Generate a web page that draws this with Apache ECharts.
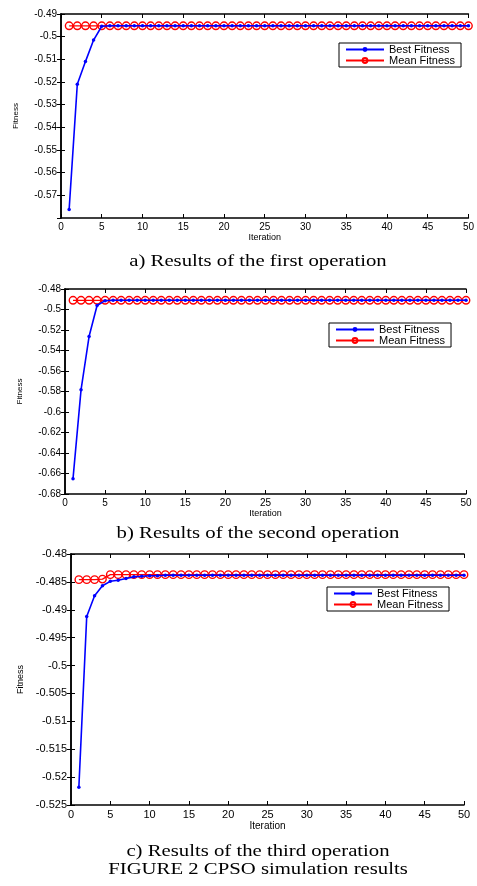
<!DOCTYPE html>
<html>
<head>
<meta charset="utf-8">
<script src="https://cdn.jsdelivr.net/npm/echarts@6/dist/echarts.min.js"></script>
<style>
html,body{margin:0;padding:0;background:#fff;}
#chart{width:477px;height:886px;}
</style>
</head>
<body>
<div id="chart"></div>
<script>
const iterations = [1,2,3,4,5,6,7,8,9,10,11,12,13,14,15,16,17,18,19,20,21,22,23,24,25,26,27,28,29,30,31,32,33,34,35,36,37,38,39,40,41,42,43,44,45,46,47,48,49,50];
const xTicks = [0,5,10,15,20,25,30,35,40,45,50];

const best1 = [-0.5762,-0.5210,-0.5110,-0.5015,-0.4954,
  -0.4952,-0.4952,-0.4952,-0.4952,-0.4952,-0.4952,-0.4952,-0.4952,-0.4952,-0.4952,
  -0.4952,-0.4952,-0.4952,-0.4952,-0.4952,-0.4952,-0.4952,-0.4952,-0.4952,-0.4952,
  -0.4952,-0.4952,-0.4952,-0.4952,-0.4952,-0.4952,-0.4952,-0.4952,-0.4952,-0.4952,
  -0.4952,-0.4952,-0.4952,-0.4952,-0.4952,-0.4952,-0.4952,-0.4952,-0.4952,-0.4952,
  -0.4952,-0.4952,-0.4952,-0.4952,-0.4952];
const mean1 = [-0.4952,-0.4952,-0.4952,-0.4952,-0.4952,-0.4952,-0.4952,-0.4952,-0.4952,-0.4952,
  -0.4952,-0.4952,-0.4952,-0.4952,-0.4952,-0.4952,-0.4952,-0.4952,-0.4952,-0.4952,
  -0.4952,-0.4952,-0.4952,-0.4952,-0.4952,-0.4952,-0.4952,-0.4952,-0.4952,-0.4952,
  -0.4952,-0.4952,-0.4952,-0.4952,-0.4952,-0.4952,-0.4952,-0.4952,-0.4952,-0.4952,
  -0.4952,-0.4952,-0.4952,-0.4952,-0.4952,-0.4952,-0.4952,-0.4952,-0.4952,-0.4952];

const best2 = [-0.6650,-0.5784,-0.5264,-0.4961,-0.4914,
  -0.4910,-0.4910,-0.4910,-0.4910,-0.4910,-0.4910,-0.4910,-0.4910,-0.4910,-0.4910,
  -0.4910,-0.4910,-0.4910,-0.4910,-0.4910,-0.4910,-0.4910,-0.4910,-0.4910,-0.4910,
  -0.4910,-0.4910,-0.4910,-0.4910,-0.4910,-0.4910,-0.4910,-0.4910,-0.4910,-0.4910,
  -0.4910,-0.4910,-0.4910,-0.4910,-0.4910,-0.4910,-0.4910,-0.4910,-0.4910,-0.4910,
  -0.4910,-0.4910,-0.4910,-0.4910,-0.4910];
const mean2 = [-0.4910,-0.4910,-0.4910,-0.4910,-0.4910,-0.4910,-0.4910,-0.4910,-0.4910,-0.4910,
  -0.4910,-0.4910,-0.4910,-0.4910,-0.4910,-0.4910,-0.4910,-0.4910,-0.4910,-0.4910,
  -0.4910,-0.4910,-0.4910,-0.4910,-0.4910,-0.4910,-0.4910,-0.4910,-0.4910,-0.4910,
  -0.4910,-0.4910,-0.4910,-0.4910,-0.4910,-0.4910,-0.4910,-0.4910,-0.4910,-0.4910,
  -0.4910,-0.4910,-0.4910,-0.4910,-0.4910,-0.4910,-0.4910,-0.4910,-0.4910,-0.4910];

const best3 = [-0.5218,-0.4912,-0.4875,-0.4857,-0.4849,-0.4847,-0.4844,-0.4841,-0.4840,-0.4839,
  -0.4839,-0.4838,-0.4838,-0.4838,-0.4838,-0.4838,-0.4838,-0.4838,-0.4838,-0.4838,
  -0.4838,-0.4838,-0.4838,-0.4838,-0.4838,-0.4838,-0.4838,-0.4838,-0.4838,-0.4838,
  -0.4838,-0.4838,-0.4838,-0.4838,-0.4838,-0.4838,-0.4838,-0.4838,-0.4838,-0.4838,
  -0.4838,-0.4838,-0.4838,-0.4838,-0.4838,-0.4838,-0.4838,-0.4838,-0.4838,-0.4838];
const mean3 = [-0.4846,-0.4846,-0.4846,-0.4845,-0.4837,-0.4837,-0.4837,-0.4837,-0.4837,-0.4837,
  -0.4837,-0.4837,-0.4837,-0.4837,-0.4837,-0.4837,-0.4837,-0.4837,-0.4837,-0.4837,
  -0.4837,-0.4837,-0.4837,-0.4837,-0.4837,-0.4837,-0.4837,-0.4837,-0.4837,-0.4837,
  -0.4837,-0.4837,-0.4837,-0.4837,-0.4837,-0.4837,-0.4837,-0.4837,-0.4837,-0.4837,
  -0.4837,-0.4837,-0.4837,-0.4837,-0.4837,-0.4837,-0.4837,-0.4837,-0.4837,-0.4837];

const seriesNames = ['Best Fitness', 'Mean Fitness'];
const captions = ['a) Results of the first operation', 'b) Results of the second operation', 'c) Results of the third operation', 'FIGURE 2 CPSO simulation results'];
const xName = 'Iteration';
const yName = 'Fitness';

const panels = [
  {grid:{left:61, top:14, width:413, height:204}, ymin:-0.58, ymax:-0.49, yint:0.01, showMin:false,
   best:best1, mean:mean1, legend:{left:339, top:43}, fs:10, nameFs:8, xGap:14, yGap:41},
  {grid:{left:65, top:289, width:401, height:205}, ymin:-0.68, ymax:-0.48, yint:0.02, showMin:true,
   best:best2, mean:mean2, legend:{left:329, top:323}, fs:10, nameFs:8, xGap:13, yGap:41},
  {grid:{left:71, top:554, width:393, height:251}, ymin:-0.525, ymax:-0.48, yint:0.005, showMin:true,
   best:best3, mean:mean3, legend:{left:327, top:587}, fs:11, nameFs:9, xGap:16, yGap:46}
];

const FONT = 'Liberation Sans';
const grid = [], xAxis = [], yAxis = [], series = [], legend = [];
panels.forEach((p, i) => {
  grid.push(p.grid);
  const tick = {show:true, inside:true, length:4, lineStyle:{color:'#000', width:1}};
  const line = {show:true, lineStyle:{color:'#000', width:1.5}};
  xAxis.push({type:'value', gridIndex:i, min:xTicks[0], max:xTicks[xTicks.length-1], interval:5, position:'bottom',
    axisLine:line, axisTick:tick, splitLine:{show:false},
    axisLabel:{fontFamily:FONT, fontSize:p.fs, color:'#000', margin:4},
    name:xName, nameLocation:'middle', nameGap:p.xGap, nameTextStyle:{fontFamily:FONT, fontSize:p.nameFs+1, color:'#000'}});
  xAxis.push({type:'value', gridIndex:i, min:xTicks[0], max:xTicks[xTicks.length-1], interval:5, position:'top',
    axisLine:line, axisTick:tick, axisLabel:{show:false}, splitLine:{show:false}});
  yAxis.push({type:'value', gridIndex:i, min:p.ymin, max:p.ymax, interval:p.yint, position:'left',
    axisLine:line, axisTick:tick, splitLine:{show:false},
    axisLabel:{fontFamily:FONT, fontSize:p.fs, color:'#000', margin:4, showMinLabel:p.showMin},
    name:yName, nameLocation:'middle', nameGap:p.yGap, nameTextStyle:{fontFamily:FONT, fontSize:p.nameFs, color:'#000'}});
  yAxis.push({type:'value', gridIndex:i, min:p.ymin, max:p.ymax, interval:p.yint, position:'right',
    axisLine:line, axisTick:tick, axisLabel:{show:false}, splitLine:{show:false}});
  series.push({name:seriesNames[1], type:'line', xAxisIndex:2*i, yAxisIndex:2*i,
    data:iterations.map((x, k) => [x, p.mean[k]]),
    symbol:'circle', symbolSize:7.5, z:2,
    lineStyle:{color:'#ff0000', width:1.3},
    itemStyle:{color:'rgba(255,255,255,0)', borderColor:'#ff0000', borderWidth:1.4}});
  series.push({name:seriesNames[0], type:'line', xAxisIndex:2*i, yAxisIndex:2*i,
    data:iterations.map((x, k) => [x, p.best[k]]),
    symbol:'circle', symbolSize:3.5, z:3,
    lineStyle:{color:'#0000ff', width:1.6},
    itemStyle:{color:'#0000ff'}});
  legend.push({orient:'vertical', left:p.legend.left, top:p.legend.top, data:seriesNames,
    itemWidth:38, itemHeight:6, itemGap:0, padding:[1,6,1,6],
    borderColor:'#000', borderWidth:1, backgroundColor:'#fff', selectedMode:false,
    textStyle:{fontFamily:FONT, fontSize:11, lineHeight:11, color:'#000'}});
});

const capY = [262, 534, 852, 870];
const graphic = captions.map((t, i) => ({type:'text', x:258, y:capY[i], scaleX:1.22,
  style:{text:t, font:'17px "Liberation Serif"', fill:'#000', textAlign:'center', textVerticalAlign:'middle'}}));

const chart = echarts.init(document.getElementById('chart'), null, {renderer:'canvas'});
chart.setOption({animation:false, backgroundColor:'#fff', grid, xAxis, yAxis, series, legend, graphic});
</script>
</body>
</html>
